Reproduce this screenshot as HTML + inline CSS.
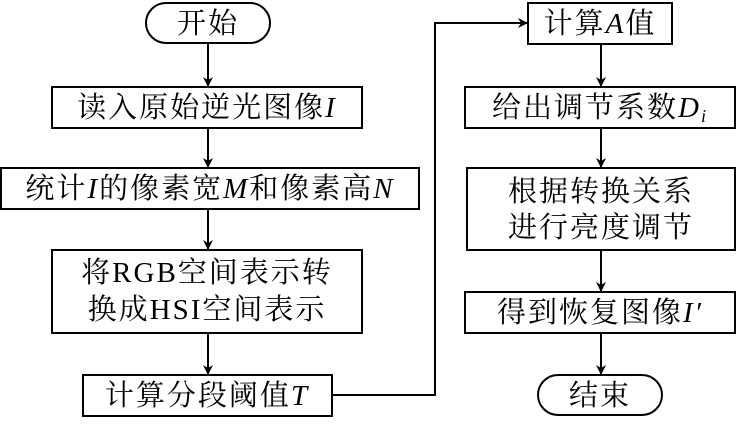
<!DOCTYPE html>
<html><head><meta charset="utf-8"><style>
body{margin:0;background:#fff;}
svg text{font-family:"Liberation Serif","Noto Serif CJK SC",serif;font-size:29px;fill:#000;text-anchor:middle;dominant-baseline:central;letter-spacing:2px}
.i{font-style:italic}
</style></head><body>
<svg width="737" height="421" viewBox="0 0 737 421" xmlns="http://www.w3.org/2000/svg">
<defs><marker id="a" markerWidth="10" markerHeight="10" refX="9" refY="5" orient="auto" markerUnits="userSpaceOnUse"><path d="M0,0 L10,5 L0,10 L3,5z" fill="#000"/></marker></defs>
<g fill="none" stroke="#000" stroke-width="2">
<rect x="146" y="3" width="124" height="40" rx="20"/>
<rect x="52" y="87" width="310" height="41"/>
<rect x="1" y="168" width="418" height="41"/>
<rect x="52" y="250" width="310" height="83"/>
<rect x="83" y="375" width="249" height="41"/>
<rect x="528" y="3" width="144" height="41"/>
<rect x="465" y="87" width="270" height="41"/>
<rect x="467" y="168" width="268" height="82"/>
<rect x="465" y="292" width="270" height="41"/>
<rect x="538" y="375" width="124" height="40" rx="20"/>
<g marker-end="url(#a)">
<line x1="208" y1="43" x2="208" y2="86"/>
<line x1="208" y1="128" x2="208" y2="167"/>
<line x1="208" y1="209" x2="208" y2="249"/>
<line x1="208" y1="333" x2="208" y2="374"/>
<polyline points="332,395 435,395 435,23 527,23"/>
<line x1="601" y1="44" x2="601" y2="86"/>
<line x1="601" y1="128" x2="601" y2="167"/>
<line x1="601" y1="250" x2="601" y2="291"/>
<line x1="601" y1="333" x2="601" y2="374"/>
</g></g>
<text x="208" y="24">开始</text>
<text x="207" y="108">读入原始逆光图像<tspan class="i">I</tspan></text>
<text x="210" y="189">统计<tspan class="i">I</tspan>的像素宽<tspan class="i">M</tspan>和像素高<tspan class="i">N</tspan></text>
<text x="207" y="273">将RGB空间表示转</text>
<text x="207" y="310">换成HSI空间表示</text>
<text x="207" y="396">计算分段阈值<tspan class="i">T</tspan></text>
<text x="600" y="24">计算<tspan class="i">A</tspan>值</text>
<text x="600" y="108">给出调节系数<tspan class="i">D</tspan><tspan class="i" font-size="18" dy="8">i</tspan></text>
<text x="601" y="192">根据转换关系</text>
<text x="601" y="228">进行亮度调节</text>
<text x="600" y="313">得到恢复图像<tspan class="i">I′</tspan></text>
<text x="600" y="396">结束</text>
</svg>
</body></html>
